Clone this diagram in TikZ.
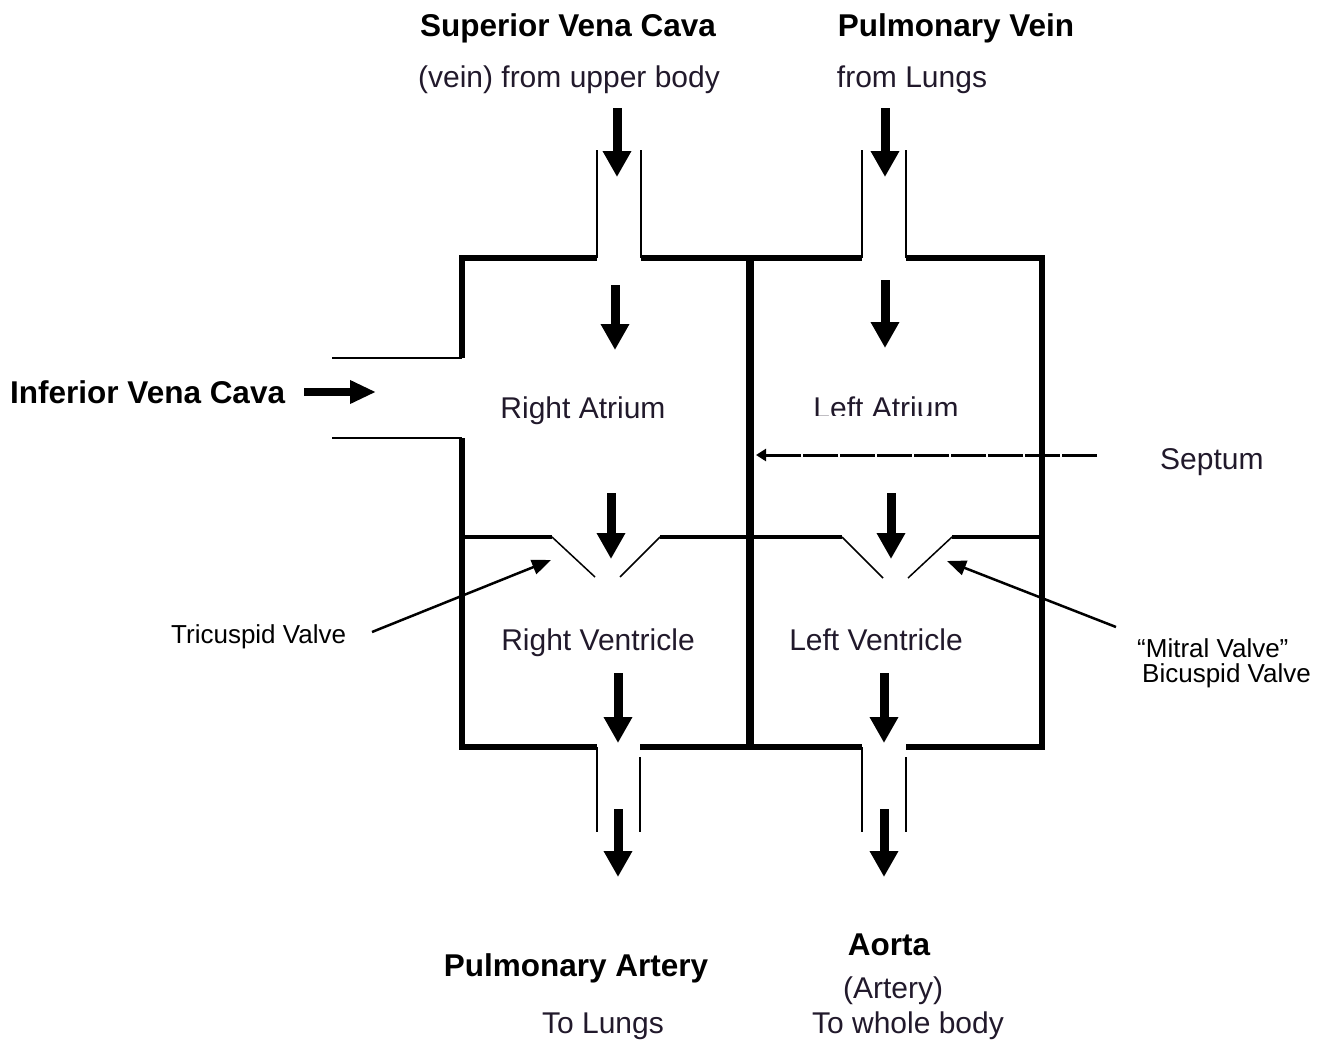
\documentclass[tikz,border=0pt]{standalone}
\usepackage{fontspec}
\setmainfont{Liberation Sans}
\usetikzlibrary{arrows.meta}
\definecolor{txt}{rgb}{0.13,0.1,0.17}
\begin{document}
\begin{tikzpicture}[x=1pt,y=-1pt,
  wall/.style={line width=6pt, line join=miter},
  septwall/.style={line width=8pt},
  valveline/.style={line width=4pt},
  flap/.style={line width=1.5pt},
  tube/.style={line width=2pt},
  ivcline/.style={line width=2.5pt},
  flowarrow/.style={line width=9pt, -{Triangle[width=27pt,length=26pt]}},
  sidearrow/.style={line width=8pt, -{Triangle[width=22pt,length=26pt]}},
  pointer/.style={line width=2.5pt, -{Triangle[width=15pt,length=19pt]}},
  septarrow/.style={line width=3pt, dash pattern=on 35pt off 2pt, -{Triangle[width=12pt,length=10pt]}},
  title/.style={font=\bfseries\fontsize{31.5}{36}\selectfont, anchor=base, inner sep=0pt},
  lbl/.style={font=\fontsize{30}{34}\selectfont, text=txt, anchor=base, inner sep=0pt},
  note/.style={font=\fontsize{26}{28}\selectfont, anchor=base west, inner sep=0pt}
]
\useasboundingbox (0,0) rectangle (1317,1041);

% ---- walls ----
\draw[tube] (597,150) -- (597,258);
\draw[wall] (597,258) -- (462,258) -- (462,358);
\draw[ivcline] (462,358) -- (332,358);
\draw[ivcline] (332,438) -- (462,438);
\draw[wall] (462,438) -- (462,747) -- (597,747);
\draw[tube] (597,747) -- (597,832);
\draw[tube] (641,150) -- (641,258);
\draw[wall] (641,258) -- (862,258);
\draw[tube] (862,258) -- (862,150);
\draw[tube] (906,150) -- (906,258);
\draw[wall] (906,258) -- (1042,258) -- (1042,747) -- (906,747);
\draw[wall] (640,747) -- (862,747);
\draw[tube] (640,757) -- (640,832);
\draw[tube] (862,747) -- (862,832);
\draw[tube] (906,757) -- (906,832);
\draw[septwall] (750,256) -- (750,750);

% ---- valves ----
\draw[valveline] (462,537) -- (552,537);
\draw[flap] (552,537) -- (595,577);
\draw[flap] (620,577) -- (660,537);
\draw[valveline] (660,537) -- (842,537);
\draw[flap] (842,537) -- (883,578);
\draw[flap] (908,578) -- (952,537);
\draw[valveline] (952,537) -- (1042,537);

% ---- flow arrows ----
\coordinate (svcA) at (617,108); \coordinate (svcB) at (617,177);
\coordinate (ra1A) at (615,285); \coordinate (ra1B) at (615,350);
\coordinate (ra2A) at (611,493); \coordinate (ra2B) at (611,559);
\coordinate (rvA)  at (618,673); \coordinate (rvB)  at (618,743);
\coordinate (paA)  at (618,809); \coordinate (paB)  at (618,877);
\coordinate (pvA)  at (885,108); \coordinate (pvB)  at (885,177);
\coordinate (la1A) at (885,280); \coordinate (la1B) at (885,348);
\coordinate (la2A) at (891,493); \coordinate (la2B) at (891,559);
\coordinate (lvA)  at (884,673); \coordinate (lvB)  at (884,743);
\coordinate (aoA)  at (884,809); \coordinate (aoB)  at (884,877);
\foreach \s in {svc,ra1,ra2,rv,pa,pv,la1,la2,lv,ao}
  \draw[flowarrow] (\s A) -- (\s B);

% ---- labels ----
\node[title] (svc) at (568,37) {Superior Vena Cava};
\node[lbl] (svcsub) at (569,87) {(vein) from upper body};
\node[title] (pv) at (956,37) {Pulmonary Vein};
\node[lbl] (pvsub) at (912,87) {from Lungs};
\node[title, anchor=base west] (ivc) at (10,403) {Inferior Vena Cava};
\coordinate (ivcA) at (304,392);
\coordinate (ivcB) at (376,392);
\draw[sidearrow] (ivcA) -- (ivcB);

\node[lbl] (ra) at (583,418) {Right Atrium};
\begin{scope}
  \clip (790,370) rectangle (990,415);
  \node[lbl] (la) at (886,418) {Left Atrium};
\end{scope}
\node[lbl, anchor=base west] (sept) at (1160,469) {Septum};
\coordinate (septA) at (1097,455);
\coordinate (septB) at (756,455);
\draw[septarrow] (septA) -- (septB);

\node[lbl] (rv) at (598,650) {Right Ventricle};
\node[lbl] (lv) at (876,650) {Left Ventricle};

\node[note] (tri) at (171,643) {Tricuspid Valve};
\coordinate (triA) at (372,632);
\coordinate (triB) at (551,560);
\draw[pointer] (triA) -- (triB);

\node[note] (mit1) at (1137,657) {“Mitral Valve”};
\node[note] (mit2) at (1142,682) {Bicuspid Valve};
\coordinate (mitA) at (1116,627);
\coordinate (mitB) at (947,561);
\draw[pointer] (mitA) -- (mitB);

\node[title] (pa) at (576,976) {Pulmonary Artery};
\node[lbl] (pasub) at (603,1033) {To Lungs};
\node[title] (ao) at (889,955) {Aorta};
\node[lbl] (aosub1) at (893,998) {(Artery)};
\node[lbl] (aosub2) at (908,1033) {To whole body};
\end{tikzpicture}
\end{document}
